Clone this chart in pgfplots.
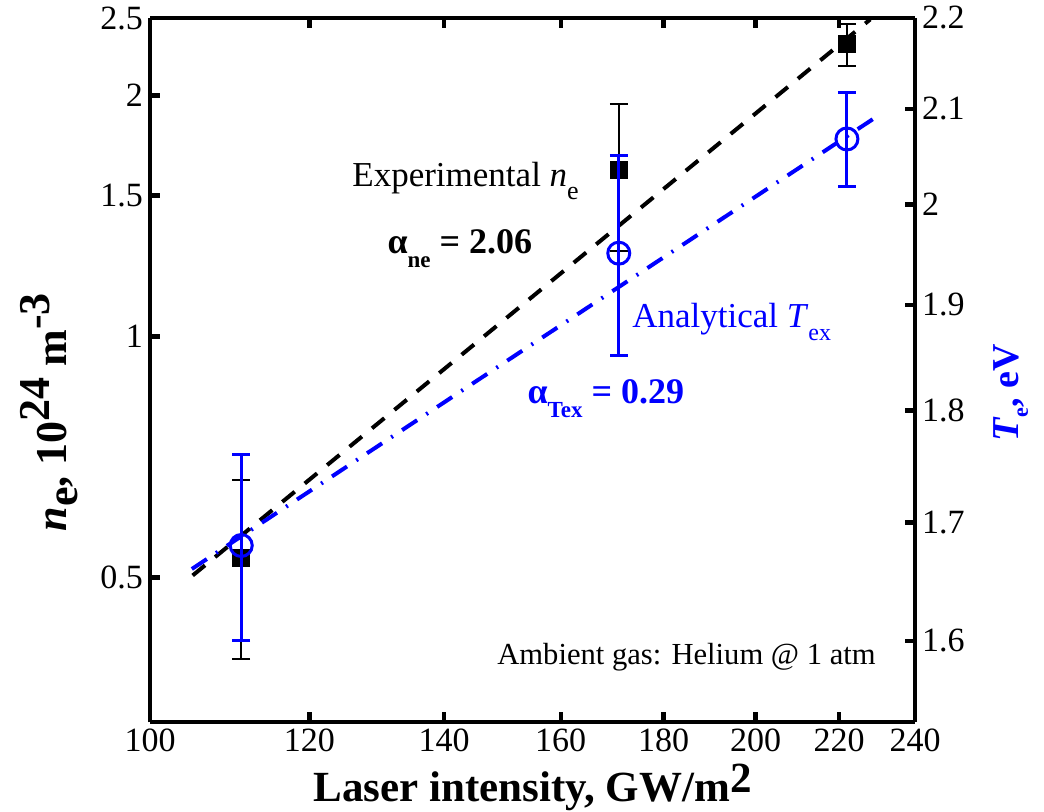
\documentclass[border=0pt]{standalone}
\usepackage{fontspec}
\setmainfont{Liberation Serif}
\usepackage{pgfplots}
\pgfplotsset{compat=1.18}
\definecolor{mblue}{RGB}{0,0,255}
\pgfplotsset{
  every axis/.append style={
    scale only axis, width=382.5pt, height=352pt,
    xmode=log, xmin=100, xmax=240,
    xtick={100,120,140,160,180,200,220,240},
    xticklabels={100,120,140,160,180,200,220,240},
    tick align=inside,
    major tick length=5pt,
    every tick/.style={black, line width=2.2pt},
    axis line style={line width=2.2pt},
    tick label style={font=\fontsize{17}{20}\selectfont},
    /pgf/number format/assume math mode=true,
  }
}

\begin{document}
\begin{tikzpicture}
\useasboundingbox (-75pt,-44.5pt) rectangle (447pt,361pt);
% ---------- left axis: electron density (log) ----------
\begin{axis}[
  axis y line*=left,
  ymode=log, ymin=0.33, ymax=2.5,
  ytick={0.5,1,1.5,2,2.5}, yticklabels={0.5,1,1.5,2,2.5},
  xlabel={\bfseries Laser intensity, GW/m\raisebox{0.2em}{2}},
  xlabel style={font=\fontsize{21.5}{24}\selectfont, inner sep=0pt, at={(axis description cs:0.5,-0.113)}, anchor=base},
  ylabel={\bfseries\textit{n}\raisebox{-0.25em}{e}, 10\raisebox{0.4em}{24} m\raisebox{0.4em}{-3}},
  ylabel style={font=\fontsize{22}{24}\selectfont, inner sep=0pt, at={(axis description cs:-0.132,0.44)}, anchor=center},
]
\addplot[black, line width=2pt, dash pattern=on 8pt off 6.5pt] coordinates {(105,0.503) (228,2.49)};
\addplot[black, only marks, mark=square*, mark size=4.25pt,
  error bars/.cd, y dir=both, y explicit,
  error bar style={line width=1pt, black},
  error mark=-,
  error mark options={rotate=90, mark size=4.5pt, line width=1pt, black}]
  coordinates {
  (111,0.529) +- (0,0.133)
  (171,1.615) +- (0,0.335)
  (222,2.32)  +- (0,0.14)
};
\node[anchor=base west, inner sep=0, font=\fontsize{17.5}{20}\selectfont] at (axis description cs:0.264,0.760)
  {Experimental \textit{n}\raisebox{-0.35em}{\fontsize{13}{13}\selectfont e}};
\node[anchor=base west, inner sep=0, font=\bfseries\fontsize{18}{20}\selectfont] at (axis description cs:0.310,0.666)
  {α\raisebox{-0.4em}{\fontsize{11.5}{12}\selectfont ne} = 2.06};
\node[anchor=base west, inner sep=0, text=mblue, font=\fontsize{17.5}{20}\selectfont] at (axis description cs:0.630,0.560)
  {Analytical \textit{T}\raisebox{-0.35em}{\fontsize{12}{12}\selectfont ex}};
\node[anchor=base west, inner sep=0, text=mblue, font=\bfseries\fontsize{18}{20}\selectfont] at (axis description cs:0.493,0.453)
  {α\raisebox{-0.4em}{\fontsize{11.5}{12}\selectfont Tex} = 0.29};
\node[anchor=base east, inner sep=0, font=\fontsize{15.3}{18}\selectfont] at (axis description cs:0.949,0.081)
  {Ambient gas: Helium @ 1 atm};
\end{axis}
% ---------- right axis: temperature (log) ----------
\begin{axis}[
  axis x line=none,
  axis y line*=right,
  ymode=log, ymin=1.535, ymax=2.2,
  ytick={1.6,1.7,1.8,1.9,2.0,2.1,2.2}, yticklabels={1.6,1.7,1.8,1.9,2,2.1,2.2},
  ylabel={\bfseries\textit{T}\raisebox{-0.25em}{\fontsize{11}{11}\selectfont e}, eV},
  ylabel style={text=mblue, font=\fontsize{19}{22}\selectfont, inner sep=0pt, at={(axis description cs:1.125,0.467)}, anchor=center},
]
\addplot[mblue, line width=2pt, dash pattern=on 9pt off 5.5pt on 1pt off 5.5pt] coordinates {(104.9,1.660) (229.4,2.091)};
\addplot[mblue, only marks, mark=o, mark size=5.5pt, mark options={line width=1.5pt},
  error bars/.cd, y dir=both, y explicit,
  error bar style={line width=1.5pt, mblue},
  error mark=|,
  error mark options={mark size=4.5pt, line width=1.5pt, mblue}]
  coordinates {
  (111,1.68)  +- (0,0.08)
  (171,1.951) +- (0,0.10)
  (222,2.068) +- (0,0.05)
};
\end{axis}
\end{tikzpicture}
\end{document}
